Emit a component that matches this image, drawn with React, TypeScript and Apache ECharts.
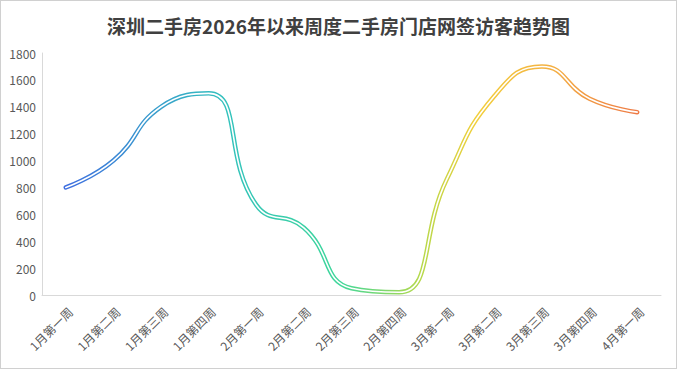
import React, { useEffect, useRef } from "react";
import * as echarts from "echarts";

const categories = [
  "1月第一周", "1月第二周", "1月第三周", "1月第四周",
  "2月第一周", "2月第二周", "2月第三周", "2月第四周",
  "3月第一周", "3月第二周", "3月第三周", "3月第四周",
  "4月第一周",
];
const visitors = [800, 1000, 1400, 1500, 670, 500, 50, 20, 860, 1480, 1700, 1460, 1360];
const yTicks = { min: 0, max: 1800, interval: 200 };
const titleText = "深圳二手房2026年以来周度二手房门店网签访客趋势图";

export default function App() {
  const ref = useRef<HTMLDivElement>(null);
  useEffect(() => {
    if (!ref.current) return;
    const chart = echarts.init(ref.current, null, { renderer: "svg" });
    const grad = new echarts.graphic.LinearGradient(0, 0, 1, 0, [
      { offset: 0, color: "#3f6fe0" },
      { offset: 0.28, color: "#33c2bd" },
      { offset: 0.48, color: "#3fd79a" },
      { offset: 0.62, color: "#b5d94c" },
      { offset: 0.72, color: "#f2cf3c" },
      { offset: 0.85, color: "#f4b043" },
      { offset: 1, color: "#ee7a45" },
    ]);
    chart.setOption({
      animation: false,
      backgroundColor: "#ffffff",
      title: {
        text: titleText,
        left: "center",
        top: 10,
        textStyle: {
          fontFamily: "Noto Sans CJK SC",
          fontSize: 19,
          fontWeight: "bold",
          color: "#404040",
        },
      },
      grid: { left: 41, right: 15, top: 52, bottom: 73, containLabel: false },
      xAxis: {
        type: "category",
        data: categories,
        boundaryGap: true,
        axisLine: { lineStyle: { color: "#d9d9d9", width: 1 } },
        axisTick: { show: false },
        axisLabel: {
          rotate: 45,
          interval: 0,
          margin: 10,
          verticalAlign: "top",
          color: "#595959",
          fontSize: 12,
          fontFamily: "Noto Sans CJK SC",
        },
      },
      yAxis: {
        type: "value",
        min: yTicks.min,
        max: yTicks.max,
        interval: yTicks.interval,
        axisLine: { show: true, lineStyle: { color: "#d9d9d9", width: 1 } },
        axisTick: { show: false },
        splitLine: { show: false },
        axisLabel: {
          color: "#595959",
          fontSize: 12,
          margin: 6,
          fontFamily: "Noto Sans CJK SC",
          formatter: (v: number) => String(v),
        },
      },
      series: [
        {
          type: "line",
          data: visitors,
          smooth: 0.5,
          symbol: "none",
          lineStyle: { width: 4.5, color: grad, cap: "round", join: "round" },
          z: 2,
        },
        {
          type: "line",
          data: visitors,
          smooth: 0.5,
          symbol: "none",
          lineStyle: { width: 1.6, color: "#ffffff", cap: "round", join: "round" },
          z: 3,
        },
      ],
    });
    return () => chart.dispose();
  }, []);
  return (
    <div
      style={{
        position: "fixed",
        left: 0,
        top: 0,
        width: 677,
        height: 369,
        boxSizing: "border-box",
        border: "1px solid #d0d0d0",
        background: "#fff",
      }}
    >
      <div ref={ref} style={{ width: 675, height: 367 }} />
    </div>
  );
}
